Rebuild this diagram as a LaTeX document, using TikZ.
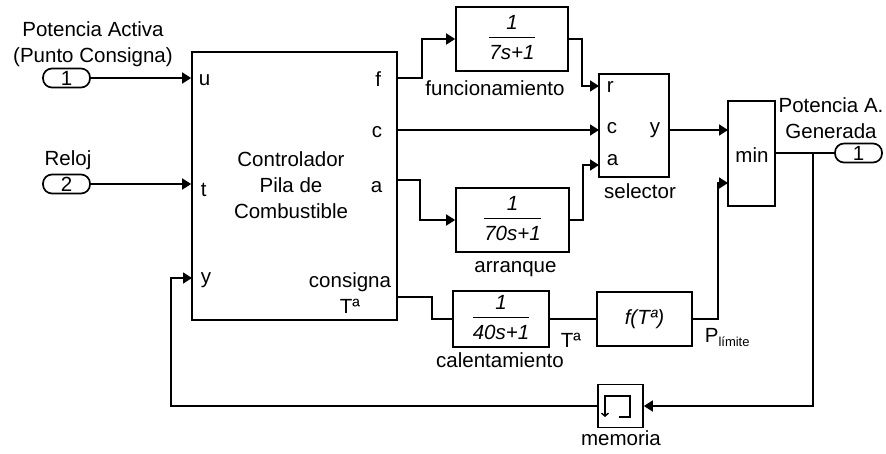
\documentclass[tikz,border=0pt]{standalone}
\usepackage{fontspec}
\setmainfont{Liberation Sans}
\usetikzlibrary{arrows.meta}
\setlength{\arrayrulewidth}{1.4pt}
% transfer function 1/(den), set in italics
\newcommand{\gtf}[1]{{\itshape\begin{tabular}{@{}c@{}}1\\\hline\rule{0pt}{21pt}#1\end{tabular}}}
\begin{document}
\begin{tikzpicture}[x=1pt, y=-1pt, line width=1.7pt,
    font=\fontsize{20.5}{26}\selectfont,
    blk/.style={draw, inner sep=0pt},
    port/.style={draw, rounded corners=9pt, minimum width=47pt, minimum height=19pt, inner sep=0pt},
    sig/.style={-{Triangle[length=9pt,width=11pt]}},
    plbl/.style={inner sep=0pt}]
  \useasboundingbox (0,0) rectangle (886,453);

  % ports
  \node[port] (in1) at (66.5,78) {1};
  \node[port] (in2) at (66.5,184) {2};
  \node[port] (out1) at (858.5,153) {1};
  \node[align=center] (in1lbl) at (93,44) {Potencia Activa\\(Punto Consigna)};
  \node[plbl, anchor=base] (in2lbl) at (68,165) {Reloj};
  \node[align=center] (out1lbl) at (831,118) {Potencia A.\\Generada};

  % blocks
  \node[blk, minimum width=205pt, minimum height=268pt] (ctrl) at (294.5,186) {};
  \node[align=center] (ctrltxt) at (291,185) {Controlador\\Pila de\\Combustible};
  \node[blk, minimum width=112pt, minimum height=64pt] (g1) at (512,39) {\gtf{7s+1}};
  \node[blk, minimum width=113pt, minimum height=64pt] (g2) at (512.5,220) {\gtf{70s+1}};
  \node[blk, minimum width=96pt, minimum height=54pt] (g3) at (501,319) {\gtf{40s+1}};
  \node[blk, minimum width=95pt, minimum height=54pt] (flim) at (644.5,319) {\itshape f(Tª)};
  \node[blk, minimum width=70pt, minimum height=103pt] (sel) at (634,125.5) {};
  \node[blk, minimum width=47pt, minimum height=105pt] (mn) at (751.5,153.5) {};
  \node[blk, minimum width=45pt, minimum height=43pt] (mem) at (620.5,406) {};

  % block names
  \node[plbl, anchor=base] (g1lbl) at (495,95) {funcionamiento};
  \node[plbl, anchor=base] (g2lbl) at (515.5,272) {arranque};
  \node[plbl, anchor=base] (g3lbl) at (500,367) {calentamiento};
  \node[plbl, anchor=base] (sellbl) at (640,198) {selector};
  \node[plbl, anchor=base] (memlbl) at (621,445) {memoria};
  \node[plbl, anchor=base] (mntxt) at (752,162) {min};

  % port names
  \node[plbl, anchor=base west] (lu) at (198,85) {u};
  \node[plbl, anchor=base west] (lt) at (200,196) {t};
  \node[plbl, anchor=base west] (ly) at (200,283) {y};
  \node[plbl, anchor=base east] (lf) at (382,86) {f};
  \node[plbl, anchor=base east] (lc) at (383,137) {c};
  \node[plbl, anchor=base east] (la) at (383,192) {a};
  \node[align=center] (lcons) at (350,293) {consigna\\Tª};
  \node[plbl, anchor=base west] (lr) at (606,92) {r};
  \node[plbl, anchor=base west] (lsc) at (606,133) {c};
  \node[plbl, anchor=base west] (lsa) at (606,165) {a};
  \node[plbl, anchor=base east] (lsy) at (661,133) {y};
  \node[plbl, anchor=base west] (ltemp) at (560,347) {Tª};
  \node[plbl, anchor=base west] (lplim) at (704,342) {P\raisebox{-4pt}{\fontsize{13}{14}\selectfont límite}};

  % connection points
  \coordinate (pf) at (397,78);
  \coordinate (pc) at (397,130);
  \coordinate (pa) at (397,180);
  \coordinate (pt) at (397,297);
  \coordinate (py) at (192,278);
  \coordinate (fb) at (171,278);
  \coordinate (sr) at (599,86);
  \coordinate (sc) at (599,130);
  \coordinate (sa) at (599,165);
  \coordinate (m1) at (728,130);
  \coordinate (m2) at (728,183);
  \coordinate (br) at (813,153);

  % signals
  \draw[sig] (in1) -- (in1 -| ctrl.west);
  \draw[sig] (in2) -- (in2 -| ctrl.west);
  \draw[sig] (pf) -- ++(25,0) |- (g1.west);
  \draw[sig] (g1.east) -- ++(13,0) |- (sr);
  \draw[sig] (pc) -- (sc);
  \draw[sig] (pa) -- ++(23,0) |- (g2.west);
  \draw[sig] (g2.east) -- ++(13,0) |- (sa);
  \draw[sig] (sel.east |- sc) -- (m1);
  \draw (pt) -- ++(35,0) |- (g3.west);
  \draw (g3) -- (flim);
  \draw[sig] (flim.east) -- ++(25,0) |- (m2);
  \draw (mn.east |- out1) -- (out1);
  \draw[sig] (br) |- (mem.east);
  \draw[sig] (mem.west) -| (fb) -- (py);

  % unit delay icon
  \draw[line width=1.4pt, -{Straight Barb[length=3pt,width=7pt]}]
    (619,417) -- (630,417) -- (630,396) -- (605,396) -- (605,417);
\end{tikzpicture}
\end{document}
